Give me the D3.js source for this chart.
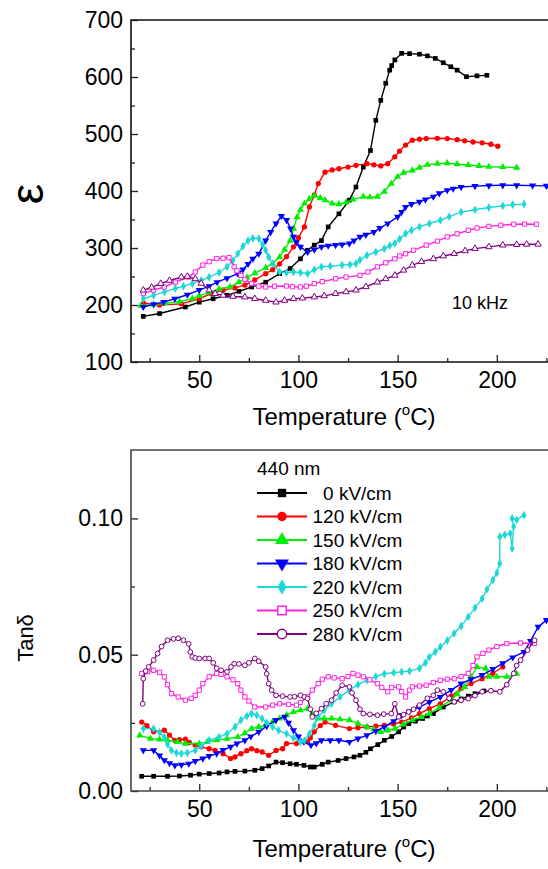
<!DOCTYPE html>
<html><head><meta charset="utf-8">
<script src="https://cdn.jsdelivr.net/npm/d3@7"></script>
<style>
body{margin:0;background:#fff}
svg{display:block}
text{font-family:"Liberation Sans",Arial,Helvetica,sans-serif;fill:#000}
</style>
</head><body>
<svg id="c" width="548" height="869"></svg>
<script>
// ---------------- DATA ----------------
const seriesLabels = ["  0 kV/cm","120 kV/cm","150 kV/cm","180 kV/cm","220 kV/cm","250 kV/cm","280 kV/cm"];
const xTicks = [50,100,150,200];
const xMinorTicks = [25,75,125,175,225];
const epsTicks = [100,200,300,400,500,600,700];
const epsMinorTicks = [150,250,350,450,550,650];
const tanTicks = [0,0.05,0.10];
const tanTickLabels = ["0.00","0.05","0.10"];
const tanMinorTicks = [0.025,0.075];

// permittivity (top) [T, eps]
const eps0 = [[21.8,180],[30,185],[43,196.5],[50,205],[57,211],[64,217],[70,224],[76.4,231.6],[83.5,240],[90.5,255],[95.8,264],[101,281],[104.6,296],[108,305],[111.6,313],[115,337],[120.4,360],[125.7,384],[129,407],[132.7,442],[136.3,471],[139,524],[141.5,559],[144,589],[146,612],[147,620],[148.6,630],[152,641.5],[156,641],[161,640],[165,637],[169,632.6],[173,625],[176.8,618],[180,612],[184.7,600.5],[190,602],[195,603]];
const eps120 = [[22,203],[30,200],[41,202],[50,211],[56,220],[62,226],[68,230],[73,235],[78,244],[83.5,255],[87,262],[90.5,272],[94,285],[97.5,302],[100,318],[103,337],[105.5,372],[108,393],[110,413],[113.4,433],[117,437],[120.4,439],[125,442],[129,445],[134.5,448],[138,446],[141.5,444],[145,448],[148.6,460],[151,470],[154,480.5],[157.4,489],[161,491],[164.4,492],[170,492.5],[175,492],[180,490],[183.8,488],[188,486],[192.6,484.6],[197,482],[200.5,478.6]];
const eps150 = [[20.5,199],[27,201],[33,203],[40,206],[46.5,211],[50,216],[55,222],[60,228],[65.5,232],[70,240],[74,248],[78,256],[83.5,265],[87,273],[90.5,284],[93,297],[95.8,313],[97.5,334],[99.3,354],[101,367],[103,378],[105.5,386],[108,392],[111,388],[113.4,384],[117,378],[120.4,377],[124,380],[127.5,385],[132.7,390],[136,389],[139.8,390],[143.3,399],[146.8,413],[150,425],[153,432],[157.4,436],[161,441],[165,446],[170,448],[175,449],[180,447],[185.6,445.5],[191,444],[196,442.5],[203,442],[210,441]];
const eps180 = [[21.8,196.5],[27,201],[32,205],[37.7,211],[44,218],[50,226],[55,233],[59,240],[64,247],[69.4,255],[72,262],[74.6,272],[77,281],[80,290],[83.5,313],[86,328],[88.7,343],[91.4,356],[94,349],[96,334],[97.5,319.5],[99,310],[101,302],[104.6,293],[108,297],[111.6,302],[115,304],[118.7,305],[122,306],[125.7,308],[128,313],[131,319.5],[134,323],[138,328],[141,335],[145,343],[150,354.6],[152,363],[154,372],[157,377],[161,381],[164,385],[168,390],[171,396],[175,401.4],[178,404],[182,407],[189,408.5],[196,409.6],[203,410],[210,410],[218,409.5],[225,409]];
const eps220 = [[21.8,211],[27,217],[32.4,223],[38,229],[42,233],[46.5,237.6],[51,243],[55,249],[60,257],[64,267],[67,278],[69.4,290],[72,303],[74.6,313],[77,317],[80,316.5],[82,306],[83.5,296],[85,284],[87,272.6],[90.5,258],[94,257],[97.5,258],[101,257],[104.6,255],[108,262],[111.6,267],[116,268],[122,270],[126,271],[129,272.6],[131,279],[134.5,287],[139,293],[143.3,299],[146,304],[148.6,308],[151,316],[154,325.3],[157,331],[161,337],[166,343],[171.5,348.7],[176,355],[182,363],[189,367],[196,371],[203,374],[208,376],[213.7,377]];
const eps250 = [[21.8,220],[27,226],[32.4,231.6],[38,240],[44.7,249],[48,258],[51.8,270],[55,276],[58.8,281.4],[62,282],[65,283],[67.6,267],[69,260],[71,252],[73,245],[76.4,237.6],[80,233],[83.5,231.6],[88,233],[94,233.4],[97,232],[101,231.6],[104,233],[108,237.6],[112,241],[118.7,246],[124,249],[131,252],[135,258],[139.8,267],[144,274],[148.6,281],[151,286],[154,290],[158,296],[164.4,305],[170,312],[175,319.5],[180,325],[185.6,331],[190,335],[196,338],[202,340],[208.5,341.7],[214,342],[220,341.7]];
const eps280 = [[21.8,226],[26,231],[30.6,237.6],[35,243],[41,249],[44,250],[48,246],[51,238],[55,226],[58,220],[62,217],[67,215],[73,214],[78,211],[83.5,208],[88.7,205],[93,208],[97.5,211],[102,212],[108,214],[113,216],[118.7,220],[124,223],[129,226],[134,232],[139.8,240],[144,246],[148.6,252],[153,261],[157.4,269.7],[162,276],[168,281],[173,286],[178.5,290],[184,295],[189,299],[196,302],[203,305],[210,306],[215,306.5],[220.8,306.6]];

// loss tangent (bottom) [T, tan delta]
const tan0 = [[21,0.0054],[27,0.0054],[34,0.0054],[40,0.0055],[45.6,0.0058],[50,0.0062],[55,0.0064],[60,0.0066],[64,0.007],[68,0.0072],[73,0.0073],[78,0.0076],[81.7,0.0082],[85,0.0092],[88.7,0.0106],[92,0.0104],[95.8,0.010],[99,0.0098],[102.8,0.0094],[106,0.0088],[108,0.0088],[112,0.0098],[115,0.0106],[120,0.0112],[124,0.0119],[128,0.0125],[131,0.0131],[134,0.0142],[136.3,0.0155],[140,0.017],[143.3,0.0186],[147,0.0200],[150.5,0.0217],[153,0.0235],[155.6,0.0247],[159,0.0256],[162.6,0.0266],[165,0.0275],[168,0.0284],[173,0.0308],[178.5,0.0327],[182,0.0338],[185.6,0.0348],[189,0.0357],[193.5,0.0367]];
const tan120 = [[21,0.0253],[23.6,0.024],[27,0.0217],[32.4,0.0223],[35,0.0205],[37.7,0.0186],[40,0.0188],[43,0.019],[45,0.0178],[48,0.0168],[51,0.0162],[55,0.0155],[58,0.0149],[62,0.0137],[65.8,0.0119],[68,0.0125],[71,0.0137],[74,0.0148],[76.4,0.0155],[79,0.0148],[81.7,0.0143],[85,0.0131],[88.7,0.0149],[92,0.0155],[94,0.0174],[99,0.0174],[104.6,0.018],[106,0.0195],[108,0.0217],[111,0.0240],[113.4,0.0253],[118.7,0.0241],[125.7,0.0229],[130,0.0232],[134.5,0.0235],[139,0.0238],[143.3,0.0241],[148,0.0246],[152,0.0253],[157,0.0268],[161,0.0284],[166,0.0302],[171.5,0.032],[177,0.0348],[182,0.0376],[187,0.0394],[192.6,0.0412],[198,0.0432],[203,0.0455]];
const tan150 = [[20,0.0204],[25.4,0.0192],[30,0.0189],[34,0.0186],[39,0.0180],[43,0.0174],[50,0.0174],[54,0.0180],[58.8,0.0186],[64,0.0192],[69.4,0.0198],[73,0.0212],[76.4,0.0229],[80,0.0235],[83.5,0.0241],[87,0.0254],[90.5,0.0266],[94,0.0278],[97.5,0.029],[101,0.0296],[104.6,0.0302],[107,0.0284],[109.7,0.0266],[113,0.0266],[116.7,0.0266],[121,0.0263],[125.7,0.026],[130,0.0248],[134.5,0.0235],[138,0.0226],[141.5,0.0217],[145,0.0222],[148.6,0.0229],[153,0.0244],[157.4,0.026],[162,0.0272],[166,0.0284],[171,0.0306],[176.8,0.0333],[180,0.0355],[183.8,0.0382],[187,0.042],[190,0.0455],[194.4,0.045],[196,0.0419],[200,0.0419],[205,0.0419],[210,0.043]];
const tan180 = [[21.8,0.0149],[27,0.0149],[30,0.013],[32.4,0.0113],[35,0.0102],[37.7,0.0094],[41,0.0096],[44.7,0.010],[48,0.011],[51.8,0.0119],[55,0.0128],[58.8,0.0137],[62,0.015],[65.8,0.0162],[69,0.0174],[73,0.0186],[76,0.0200],[80,0.0217],[84,0.0238],[88.7,0.026],[93,0.0272],[95,0.025],[97.5,0.0223],[100,0.02],[102.8,0.018],[106.3,0.0168],[109,0.0175],[111.6,0.0186],[116,0.0186],[120.4,0.0186],[125.7,0.018],[130,0.0192],[134.5,0.0204],[139,0.022],[143.3,0.0235],[148,0.0256],[152,0.0278],[156,0.0292],[161,0.0308],[166,0.0326],[171.5,0.0345],[177,0.037],[182,0.0394],[187,0.041],[192.6,0.0425],[198,0.0447],[203,0.0468],[208,0.049],[213.7,0.051],[217,0.055],[220.8,0.0602],[225,0.0627]];
const tan220 = [[21.8,0.0229],[27,0.0229],[30,0.0215],[32.4,0.0198],[34,0.0172],[36,0.0149],[38.5,0.0140],[41,0.0137],[44,0.0140],[48,0.0149],[51,0.0165],[55,0.0186],[60,0.0198],[64,0.021],[68,0.0235],[71,0.026],[74,0.0275],[76.4,0.0284],[79,0.0278],[81.7,0.0266],[84,0.025],[87,0.0235],[90,0.0222],[94,0.021],[97.5,0.0195],[101,0.018],[103,0.0185],[105.5,0.021],[108,0.024],[110,0.0272],[113,0.0296],[116.7,0.032],[121,0.0345],[125.7,0.037],[130,0.039],[134.5,0.0406],[139,0.042],[143.3,0.043],[148,0.0434],[152,0.0437],[156,0.044],[161,0.045],[164,0.047],[166,0.0492],[169,0.051],[171.5,0.0529],[175,0.0552],[178.5,0.0578],[182,0.0605],[185.6,0.0639],[189,0.0672],[192.6,0.0706],[195,0.074],[198,0.0774],[200,0.080],[201.5,0.0835],[201.5,0.0933],[204,0.094],[206.8,0.0945],[207.7,0.089],[208.5,0.097],[207.7,0.100],[210,0.0995],[213.7,0.1012]];
const tan250 = [[21,0.0431],[24,0.0438],[27,0.0443],[30,0.0435],[32.4,0.0419],[34,0.039],[36,0.0357],[39.4,0.0345],[43,0.0333],[46,0.034],[48,0.0351],[50,0.037],[51.8,0.0394],[55,0.0419],[58.8,0.0431],[61,0.0428],[64,0.0419],[67,0.0408],[69.4,0.0394],[71,0.037],[73,0.0345],[75,0.033],[78,0.0308],[83.5,0.0308],[87,0.0315],[90.5,0.032],[95,0.0318],[99,0.0315],[101,0.0325],[104.6,0.0345],[107,0.037],[110,0.0394],[112,0.041],[115,0.0419],[118,0.0415],[122,0.0412],[125,0.042],[127.5,0.0431],[130,0.0425],[132.7,0.0419],[136,0.0408],[139.8,0.0394],[142,0.038],[145,0.0364],[147,0.038],[150.5,0.0382],[152,0.0365],[154,0.0345],[156,0.037],[157.4,0.0382],[161,0.0385],[164.4,0.0388],[168,0.0398],[171.5,0.0406],[175,0.041],[178.5,0.0412],[182,0.042],[185.6,0.0431],[188,0.046],[190,0.0492],[193,0.0505],[196,0.0517],[200,0.053],[205,0.0541],[212,0.0543],[219,0.0541]];
const tan280 = [[21.5,0.032],[21.8,0.0412],[23,0.044],[24.5,0.0455],[27,0.048],[29,0.0504],[31,0.053],[34,0.0553],[37,0.0558],[39.4,0.056],[42,0.0553],[44.7,0.054],[45.5,0.051],[46.5,0.0492],[48,0.0488],[50,0.0486],[53,0.0486],[55,0.0486],[57,0.047],[58.8,0.045],[61,0.0443],[64,0.0437],[66,0.0455],[67.6,0.0467],[70,0.0466],[73,0.0461],[75,0.047],[78,0.0486],[80,0.0476],[83.5,0.0455],[84,0.043],[85,0.0394],[86.5,0.037],[88.7,0.0351],[92,0.0348],[95.8,0.0345],[98,0.0346],[101,0.0351],[103,0.0345],[104.6,0.0339],[106,0.030],[107,0.0272],[109,0.0285],[111.6,0.0302],[114,0.032],[116.7,0.0333],[119,0.036],[122,0.0388],[125.7,0.0382],[127,0.036],[129,0.0333],[131,0.030],[132.7,0.0284],[136,0.0281],[139.8,0.0278],[143,0.0282],[146.8,0.0284],[148.6,0.032],[150.5,0.0272],[153,0.028],[155.6,0.029],[158,0.030],[161,0.0315],[165,0.034],[168,0.0351],[170,0.037],[173,0.0364],[176,0.034],[178.5,0.0327],[182,0.0333],[185.6,0.0339],[189,0.035],[192.6,0.0364],[197,0.0368],[201.5,0.0364],[205,0.039],[208.5,0.0431],[210,0.046],[212,0.048],[215.5,0.0517],[219,0.0553]];

const epsSeries = [eps0,eps120,eps150,eps180,eps220,eps250,eps280];
const tanSeries = [tan0,tan120,tan150,tan180,tan220,tan250,tan280];

// ---------------- STYLE ----------------
const colors = ["#000000","#ff0000","#00ee00","#0000ff","#1ed8d8","#ff22e0","#800080"];
const symDown = {draw(ctx,size){
  const h = Math.sqrt(size*4/Math.sqrt(3)); const s=h*Math.sqrt(3)/2;
  ctx.moveTo(0,s*2/3); ctx.lineTo(h/2,-s/3); ctx.lineTo(-h/2,-s/3); ctx.closePath();}};
const symUp = {draw(ctx,size){
  const h = Math.sqrt(size*4/Math.sqrt(3)); const s=h*Math.sqrt(3)/2;
  ctx.moveTo(0,-s*2/3); ctx.lineTo(h/2,s/3); ctx.lineTo(-h/2,s/3); ctx.closePath();}};
const topSym = [d3.symbolSquare,d3.symbolCircle,symUp,symDown,d3.symbolDiamond,d3.symbolSquare,symUp];
const botSym = [d3.symbolSquare,d3.symbolCircle,symUp,symDown,d3.symbolDiamond,d3.symbolSquare,d3.symbolCircle];
const hollow = [false,false,false,false,false,true,true];
const FONT = '"Liberation Sans",Arial,Helvetica,sans-serif';

const svg = d3.select("#c");
const xDomain = [15.6,226.3];
const L = 131, R = 549;

function panel(cfg){
  const x = d3.scaleLinear().domain(xDomain).range([L,R]);
  const y = d3.scaleLinear().domain(cfg.yDomain).range([cfg.bottom,cfg.top]);
  const g = svg.append("g");
  const cid = "clip"+cfg.id;
  svg.append("clipPath").attr("id",cid).append("rect")
     .attr("x",L).attr("y",cfg.top).attr("width",R-L).attr("height",cfg.bottom-cfg.top);

  const plot = g.append("g").attr("clip-path",`url(#${cid})`);
  const line = d3.line().x(d=>x(d[0])).y(d=>y(d[1]));
  cfg.series.forEach((s,i)=>{
    plot.append("path").attr("d",line(s)).attr("fill","none")
      .attr("stroke",colors[i]).attr("stroke-width",1.4);
    const sym = d3.symbol().type(cfg.syms[i]).size(hollow[i]?18:22);
    plot.append("g").selectAll("path").data(s).join("path")
      .attr("transform",d=>`translate(${x(d[0])},${y(d[1])})`)
      .attr("d",sym)
      .attr("fill",hollow[i]?"#fff":colors[i])
      .attr("stroke",hollow[i]?colors[i]:"none")
      .attr("stroke-width",1);
  });

  const xa = g.append("g").attr("transform",`translate(0,${cfg.bottom})`)
    .call(d3.axisBottom(x).tickValues(xTicks).tickSizeInner(-7).tickSizeOuter(0).tickPadding(10));
  const xm = g.append("g").attr("transform",`translate(0,${cfg.bottom})`)
    .call(d3.axisBottom(x).tickValues(xMinorTicks).tickSizeInner(-4).tickSizeOuter(0).tickFormat(""));
  const ya = g.append("g").attr("transform",`translate(${L},0)`)
    .call(d3.axisLeft(y).tickValues(cfg.yTicks).tickSizeInner(-7).tickSizeOuter(0).tickPadding(8)
      .tickFormat((d,i)=>cfg.yLabels[i]));
  const ym = g.append("g").attr("transform",`translate(${L},0)`)
    .call(d3.axisLeft(y).tickValues(cfg.yMinor).tickSizeInner(-4).tickSizeOuter(0).tickFormat(""));
  [xa,xm,ya,ym].forEach(a=>{
    a.select(".domain").remove();
    a.selectAll("line").attr("stroke","#222").attr("stroke-width",1.3);
    a.selectAll("text").attr("font-size",23).attr("font-family",FONT).attr("fill","#000");
  });
  g.append("path")
    .attr("d",`M${R},${cfg.top}H${L}V${cfg.bottom}H${R}`)
    .attr("fill","none").attr("stroke",cfg.frameColor).attr("stroke-width",1.6);

  const t = g.append("text").attr("x",(L+R)/2+4).attr("y",cfg.titleY)
    .attr("text-anchor","middle").attr("font-size",24).attr("font-family",FONT);
  t.append("tspan").text("Temperature (");
  t.append("tspan").text("o").attr("font-size",15).attr("dy",-10);
  t.append("tspan").text("C)").attr("dy",10);
  return {x,y,g};
}

panel({id:"t",top:20,bottom:362,yDomain:[100,700],series:epsSeries,syms:topSym,
  yTicks:epsTicks,yLabels:epsTicks.map(String),yMinor:epsMinorTicks,titleY:425,frameColor:"#111"});
panel({id:"b",top:450,bottom:791,yDomain:[0,0.1251],series:tanSeries,syms:botSym,
  yTicks:tanTicks,yLabels:tanTickLabels,yMinor:tanMinorTicks,titleY:857,frameColor:"#444"});

// y titles
svg.append("text").attr("transform","translate(43,194) rotate(-90)")
  .attr("text-anchor","middle").attr("font-size",46).attr("font-family",FONT).text("ε");
svg.append("text").attr("transform","translate(33,638) rotate(-90)")
  .attr("text-anchor","middle").attr("font-size",22).attr("font-family",FONT).text("Tanδ");

// annotation
svg.append("text").attr("x",452).attr("y",309).attr("font-size",18).attr("font-family",FONT).text("10 kHz");

// legend
const lg = svg.append("g");
lg.append("text").attr("x",257).attr("y",475).attr("font-size",19).attr("font-family",FONT).text("440 nm");
seriesLabels.forEach((lab,i)=>{
  const yy = 493 + i*23.5;
  lg.append("line").attr("x1",257).attr("x2",307).attr("y1",yy).attr("y2",yy)
    .attr("stroke",colors[i]).attr("stroke-width",2.2);
  lg.append("path").attr("transform",`translate(282,${yy})`)
    .attr("d",d3.symbol().type(botSym[i]).size(i===2||i===3?85:70)())
    .attr("fill",hollow[i]?"#fff":colors[i]).attr("stroke",hollow[i]?colors[i]:"none").attr("stroke-width",1.4);
  lg.append("text").attr("x",312.5).attr("y",yy).attr("dy","0.36em")
    .attr("font-size",19).attr("font-family",FONT).style("white-space","pre").text(lab);
});
</script>
</body></html>
